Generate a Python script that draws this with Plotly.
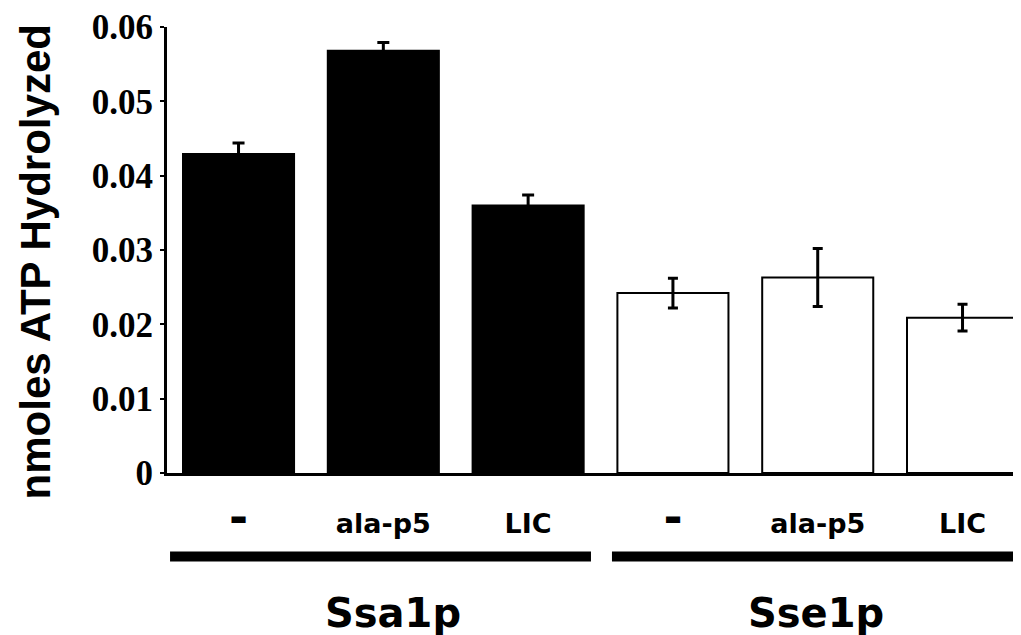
import plotly.graph_objects as go

# ---- data ----
conditions = ["-", "ala-p5", "LIC"]
groups = ["Ssa1p", "Sse1p"]
ssa1p_values = [0.0429, 0.0568, 0.0360]
ssa1p_errors = [0.0015, 0.0011, 0.0014]
sse1p_values = [0.0242, 0.0263, 0.0209]
sse1p_errors = [0.0020, 0.0039, 0.0018]
y_tickvals = [0, 0.01, 0.02, 0.03, 0.04, 0.05, 0.06]
y_ticktext = ["0", "0.01", "0.02", "0.03", "0.04", "0.05", "0.06"]
y_title = "nmoles ATP Hydrolyzed"

OFF = 8  # page body margin
PAGE_W, PAGE_H = 1021, 635
W, H = PAGE_W - OFF, PAGE_H - OFF
# plot area in page pixels
AX_L, AX_R, AX_T, AX_B = 167, 1021, 24, 473
ML, MR, MT, MB = AX_L - OFF, PAGE_W - AX_R, AX_T - OFF, PAGE_H - AX_B
plot_h = AX_B - AX_T
plot_w = AX_R - AX_L

n = len(conditions)
x_ssa = list(range(n))
x_sse = [n + i for i in range(n)]
all_x = x_ssa + x_sse
all_labels = conditions + conditions

def label_html(t):
    if t == "-":
        return "<span style='font-size:46px'>-</span>"
    return t

fig = go.Figure()
fig.add_trace(go.Bar(
    x=x_ssa, y=ssa1p_values, width=0.767,
    marker=dict(color="black", line=dict(color="black", width=2)),
    error_y=dict(type="data", array=ssa1p_errors, visible=True,
                 color="black", thickness=3, width=6),
    showlegend=False, name=groups[0],
))
fig.add_trace(go.Bar(
    x=x_sse, y=sse1p_values, width=0.767,
    marker=dict(color="white", line=dict(color="black", width=2)),
    error_y=dict(type="data", array=sse1p_errors, visible=True,
                 color="black", thickness=3, width=5),
    showlegend=False, name=groups[1],
))

xr = [-0.494, -0.494 + plot_w / 144.8]

def py(p):
    return (AX_B - p) / plot_h

def pxx(p):
    return (p - AX_L) / plot_w

# group underlines
fig.add_shape(type="line", xref="x", yref="paper", x0=-0.473, x1=2.434,
              y0=py(557), y1=py(557), line=dict(color="black", width=10))
fig.add_shape(type="line", xref="x", yref="paper", x0=2.579, x1=5.6,
              y0=py(557), y1=py(557), line=dict(color="black", width=10))

# group labels
gfont = dict(family="DejaVu Sans", size=40, color="black", weight="bold")
fig.add_annotation(text=groups[0], xref="x", yref="paper", x=1.07, y=py(614),
                   xanchor="center", yanchor="middle", showarrow=False, font=gfont)
fig.add_annotation(text=groups[1], xref="x", yref="paper", x=3.99, y=py(614),
                   xanchor="center", yanchor="middle", showarrow=False, font=gfont)

# y title
fig.add_annotation(text=y_title, xref="paper", yref="paper", x=pxx(35), y=py(261),
                   xanchor="center", yanchor="middle", textangle=-90, showarrow=False,
                   font=dict(family="Liberation Sans", size=42, color="black", weight="bold"))

fig.update_layout(
    width=W, height=H,
    margin=dict(l=ML, r=MR, t=MT, b=MB, pad=0),
    paper_bgcolor="white", plot_bgcolor="white",
    barmode="overlay",
    xaxis=dict(range=xr, tickmode="array", tickvals=all_x,
               ticktext=[label_html(t) for t in all_labels],
               showgrid=False, zeroline=False, showline=True, linecolor="black",
               linewidth=3, ticks="", ticklabelstandoff=25, ticklabeloverflow="allow",
               tickfont=dict(family="DejaVu Sans", size=27, color="black", weight="bold")),
    yaxis=dict(range=[0, 0.06], tickmode="array", tickvals=y_tickvals, ticktext=y_ticktext,
               showgrid=False, zeroline=False, showline=True, linecolor="black",
               linewidth=3, ticks="outside", ticklen=4, tickwidth=2, tickcolor="black",
               ticklabeloverflow="allow",
               tickfont=dict(family="Liberation Serif", size=35, color="black", weight="bold")),
)

fig.write_html("out.html")
